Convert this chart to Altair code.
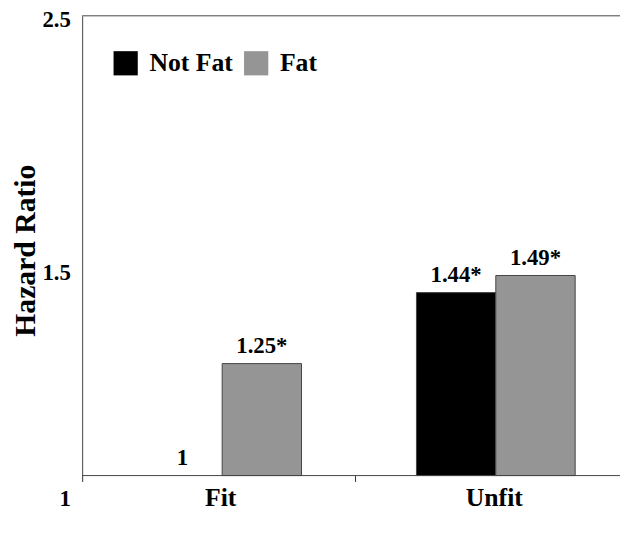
import altair as alt
import pandas as pd

groups = ["Fit", "Fit", "Unfit", "Unfit"]
fatness = ["Not Fat", "Fat", "Not Fat", "Fat"]
hazard = [1.0, 1.25, 1.44, 1.49]
bar_labels = ["1", "1.25*", "1.44*", "1.49*"]
y_ticks = [1, 1.5, 2.5]

df = pd.DataFrame({"group": groups, "fatness": fatness, "hr": hazard, "label": bar_labels})

SERIF = "serif"

yscale = alt.Scale(type="log", domain=[1, 2.5], nice=False)
xenc = alt.X("group:N", title=None, sort=["Fit", "Unfit"],
             scale=alt.Scale(paddingInner=0.42, paddingOuter=0.2, range=[6, 554]),
             axis=alt.Axis(labelAngle=0, labelFont=SERIF, labelFontWeight="bold",
                           labelFontSize=26, labelColor="black", labelPadding=3,
                           domain=False, ticks=True, tickOffset=-142, labelOffset=140,
                           tickSize=6, tickWidth=1, tickColor="#333"))
xoff = alt.XOffset("fatness:N", sort=["Not Fat", "Fat"], scale=alt.Scale(paddingInner=0, paddingOuter=0))

bars = alt.Chart(df).mark_bar(stroke="#444").encode(
    x=xenc,
    xOffset=xoff,
    y=alt.Y("hr:Q", scale=yscale, title="Hazard Ratio",
            axis=alt.Axis(values=y_ticks, format="~g", ticks=False, grid=False,
                          labelFont=SERIF, labelFontWeight="bold", labelFontSize=23,
                          labelColor="black", labelPadding=12,
                          labelOffset={"condition": [
                              {"test": "datum.value == 1", "value": 23},
                              {"test": "datum.value == 2.5", "value": 4}], "value": 0},
                          titleFont=SERIF, titleFontWeight="bold", titleFontSize=30,
                          titleColor="black", titleAngle=270,
                          titleX=-57, titleY=237, titleAlign="center", titleBaseline="middle",
                          domainColor="#444")),
    y2=alt.datum(1),
    strokeWidth=alt.condition("datum.hr > 1", alt.value(1), alt.value(0)),
    color=alt.Color("fatness:N", sort=["Not Fat", "Fat"],
                    scale=alt.Scale(domain=["Not Fat", "Fat"], range=["#000000", "#959595"]),
                    legend=alt.Legend(title=None, orient="none", direction="horizontal",
                                      legendX=31, legendY=35, symbolType="square",
                                      symbolSize=600, symbolStrokeWidth=0,
                                      labelFont=SERIF, labelFontWeight="bold",
                                      labelFontSize=26, labelColor="black",
                                      labelOffset=11, columnPadding=10)),
)

texts = alt.Chart(df).mark_text(baseline="bottom", dy=-6, font=SERIF, fontWeight="bold",
                                fontSize=23, color="black").encode(
    x=xenc,
    xOffset=xoff,
    y=alt.Y("hr:Q", scale=yscale),
    text="label:N",
)

frame = alt.Chart(pd.DataFrame({"v": [1, 2.5]})).mark_rule(color="#444", strokeWidth=1).encode(
    y=alt.Y("v:Q", scale=yscale)
)

chart = alt.layer(bars, texts, frame).properties(
    width=544, height=465,
    autosize=alt.AutoSizeParams(type="none"),
    padding={"left": 75, "top": 5, "right": 0, "bottom": 40},
).configure_view(stroke=None)

chart.save("out.html", embed_options={"renderer": "svg", "actions": False})
